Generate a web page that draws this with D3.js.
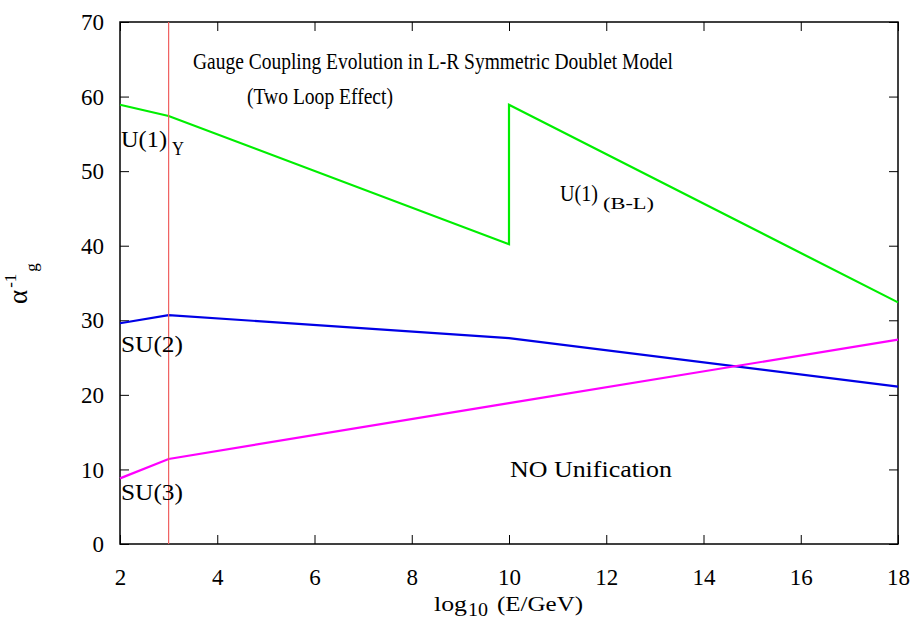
<!DOCTYPE html>
<html><head><meta charset="utf-8">
<script src="https://cdn.jsdelivr.net/npm/d3@7"></script>
<style>body{margin:0;background:#fff}svg{display:block}text{font-family:"Liberation Serif","DejaVu Serif",serif;fill:#000}</style>
</head><body>
<script>
const xTicks=[2,4,6,8,10,12,14,16,18];
const yTicks=[0,10,20,30,40,50,60,70];
const u1X=[2,3,10,10,18];
const u1Y=[58.9,57.4,40.2,58.9,32.4];
const su2X=[2,3,10,18];
const su2Y=[29.6,30.7,27.6,21.1];
const su3X=[2,3,10,18];
const su3Y=[8.8,11.4,18.9,27.4];
const thresholdX=3;

const W=919,H=619,L=120,R=898,T=22,B=544;
const svg=d3.select("body").append("svg").attr("width",W).attr("height",H);
const x=d3.scaleLinear().domain([2,18]).range([L,R]);
const y=d3.scaleLinear().domain([0,70]).range([B,T]);
const fs=23;
const tk=9;
const axB=svg.append("g").attr("transform",`translate(0,${B})`).call(d3.axisBottom(x).tickValues(xTicks).tickSize(-tk).tickPadding(25).tickFormat(d3.format("d")));
const axT=svg.append("g").attr("transform",`translate(0,${T})`).call(d3.axisTop(x).tickValues(xTicks).tickSize(-tk).tickFormat(""));
const axL=svg.append("g").attr("transform",`translate(${L},0)`).call(d3.axisLeft(y).tickValues(yTicks).tickSize(-tk).tickPadding(16).tickFormat(d3.format("d")));
const axR=svg.append("g").attr("transform",`translate(${R},0)`).call(d3.axisRight(y).tickValues(yTicks).tickSize(-tk).tickFormat(""));
[axB,axT,axL,axR].forEach(a=>{a.select(".domain").remove();a.selectAll("line").attr("stroke","#000").attr("stroke-width",1);a.selectAll("text").attr("font-size",fs).attr("font-family","Liberation Serif").attr("fill","#000");});
axB.selectAll("text").attr("dy","0.71em");
axL.selectAll("text").attr("dy","0.33em");
svg.append("rect").attr("x",L).attr("y",T).attr("width",R-L).attr("height",B-T).attr("fill","none").attr("stroke","#000").attr("stroke-width",1.5);

const line=d3.line().x(d=>x(d[0])).y(d=>y(d[1]));
function series(xs,ys,c){svg.append("path").datum(xs.map((v,i)=>[v,ys[i]])).attr("d",line).attr("fill","none").attr("stroke",c).attr("stroke-width",2.2);}
series(u1X,u1Y,"#00ee00");
series(su2X,su2Y,"#0000e6");
series(su3X,su3Y,"#ff00ff");
svg.append("line").attr("x1",x(thresholdX)).attr("x2",x(thresholdX)).attr("y1",T).attr("y2",B).attr("stroke","#f06060").attr("stroke-width",1.2);

function t(xp,yp,txt,size,len){const e=svg.append("text").attr("x",xp).attr("y",yp).attr("font-size",size).text(txt);if(len)e.attr("textLength",len).attr("lengthAdjust","spacingAndGlyphs");return e;}
t(193,69,"Gauge Coupling Evolution in L-R Symmetric Doublet Model",24,480);
t(247,104,"(Two Loop Effect)",24,146);
t(121,147,"U(1)",24,46);
t(172,155,"Y",19,12);
t(121,352,"SU(2)",24,62);
t(121,500,"SU(3)",24,62);
t(560,201,"U(1)",24,38);
t(603,209,"(B-L)",17,51);
t(510,477,"NO Unification",23,162);
t(434,611,"log",22,33);
t(468,616,"10",18,20);
t(497,611,"(E/GeV)",22,86);
const yl=svg.append("text").attr("transform","translate(27,304) rotate(-90)").attr("font-size",27);
yl.append("tspan").text("α");
yl.append("tspan").attr("dy",-11).attr("dx",2).attr("font-size",17).text("-1");
yl.append("tspan").attr("dy",21).attr("dx",2).attr("font-size",17).text("g");
</script>
</body></html>
